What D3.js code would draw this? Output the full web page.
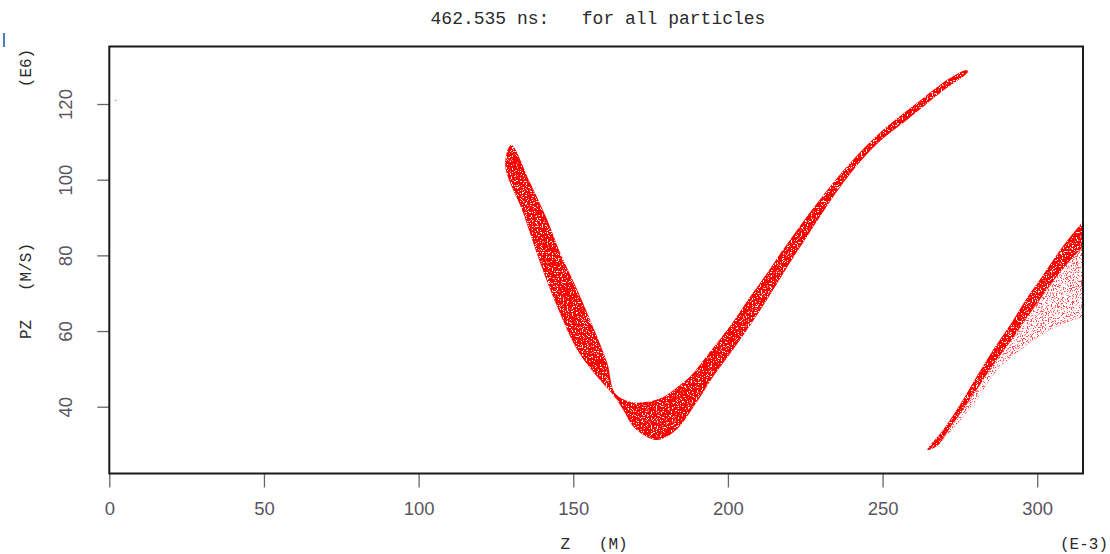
<!DOCTYPE html>
<html>
<head>
<meta charset="utf-8">
<script src="https://cdn.jsdelivr.net/npm/d3@7"></script>
<style>
  body { margin: 0; background: #fff; }
</style>
</head>
<body>
<div id="chart"></div>
<script>
// axis ticks
var xTicks = [0, 50, 100, 150, 200, 250, 300];
var yTicks = [40, 60, 80, 100, 120];

// main bunch outline, [z (E-3 m), pz (E6 m/s)]
var mainUpper = [
    [128.0, 103.9], [129.9, 109.2], [136.1, 99.1], [141.6, 89.4], [145.8, 80.6], [151.3, 70.9],
    [156.4, 61.1], [161.0, 51.6], [163.5, 43.6], [168.4, 41.3], [173.9, 41.3], [179.1, 42.6],
    [184.6, 45.8], [187.7, 47.9], [194.2, 54.5], [200.7, 61.3], [207.1, 69.0], [212.9, 75.6],
    [218.4, 82.2], [228.8, 93.8], [239.5, 104.4], [250.1, 113.1], [261.1, 120.3], [271.8, 126.9],
    [277.3, 129.0]
];
var mainLower = [
    [128.0, 103.9], [133.8, 91.2], [139.3, 78.0], [144.8, 66.4], [151.3, 55.0], [157.7, 47.9],
    [162.9, 43.1], [166.1, 39.2], [169.4, 34.7], [173.9, 32.0], [177.1, 31.2], [182.9, 33.6],
    [190.4, 41.8], [195.2, 47.9], [201.6, 55.0], [207.7, 62.1], [213.6, 69.5], [219.4, 77.2],
    [224.9, 84.1], [232.0, 93.0], [239.5, 101.5], [249.2, 110.2], [257.9, 115.8], [268.6, 122.9],
    [277.6, 128.5]
];

// second bunch: dense core and diffuse tail
var coreUpper = [
    [264.5, 28.6], [269.6, 33.9], [275.0, 40.5], [280.5, 48.1], [285.7, 55.0], [291.2, 61.6],
    [296.7, 68.8], [301.9, 74.8], [307.4, 81.4], [313.8, 88.0], [317.0, 91.0]
];
var coreLower = [
    [264.5, 28.6], [267.6, 29.6], [271.8, 34.4], [277.3, 40.8], [281.5, 45.8], [285.7, 51.0],
    [291.2, 57.1], [296.7, 63.5], [301.9, 69.5], [307.4, 75.6], [313.8, 81.4], [317.0, 84.0]
];
var tailLower = [
    [267.6, 29.6], [271.8, 33.3], [277.3, 38.6], [281.5, 43.1], [285.7, 48.4], [291.2, 52.9],
    [296.7, 56.3], [301.9, 59.2], [307.4, 61.6], [314.8, 63.5], [317.0, 63.0]
];

// stray particles
var strayPoints = [[1.9, 121.1]];

function drawPhaseSpace() {
    var width = 1110;
    var height = 554;
    var plot = { left: 109.3, right: 1083, top: 46.5, bottom: 473.5 };

    var x = d3.scaleLinear().domain([0, 314.8]).range([plot.left, plot.right]);
    var y = d3.scaleLinear().domain([22.35, 135.2]).range([plot.bottom, plot.top]);

    var svg = d3.select('#chart')
        .append('svg')
        .attr('width', width)
        .attr('height', height);

    var defs = svg.append('defs');

    defs.append('clipPath')
        .attr('id', 'plot_clip')
        .append('rect')
        .attr('x', plot.left)
        .attr('y', plot.top)
        .attr('width', plot.right - plot.left)
        .attr('height', plot.bottom - plot.top);

    // speckle texture: white noise dots laid over the red fill
    function speckle(id, seed, alphaRow) {
        var f = defs.append('filter')
            .attr('id', id)
            .attr('filterUnits', 'userSpaceOnUse')
            .attr('color-interpolation-filters', 'sRGB')
            .attr('x', 0).attr('y', 0)
            .attr('width', width).attr('height', height);
        f.append('feTurbulence')
            .attr('type', 'fractalNoise')
            .attr('baseFrequency', 0.8)
            .attr('numOctaves', 2)
            .attr('seed', seed)
            .attr('result', 'noise');
        f.append('feColorMatrix')
            .attr('in', 'noise')
            .attr('type', 'matrix')
            .attr('values', '0 0 0 0 0  0 0 0 0 0  0 0 0 0 0  ' + alphaRow)
            .attr('result', 'mask');
        f.append('feFlood')
            .attr('flood-color', '#ffffff')
            .attr('result', 'white');
        f.append('feComposite')
            .attr('in', 'white')
            .attr('in2', 'mask')
            .attr('operator', 'in')
            .attr('result', 'dots');
        f.append('feComposite')
            .attr('in', 'dots')
            .attr('in2', 'SourceAlpha')
            .attr('operator', 'in')
            .attr('result', 'dots_in');
        var merge = f.append('feMerge');
        merge.append('feMergeNode').attr('in', 'SourceGraphic');
        merge.append('feMergeNode').attr('in', 'dots_in');
    }
    speckle('speckle_dense', 4, '12 0 0 0 -7.0');
    speckle('speckle_sparse', 9, '-10 0 0 0 6.4');

    var line = d3.line()
        .x(function(d) { return x(d[0]); })
        .y(function(d) { return y(d[1]); })
        .curve(d3.curveCatmullRomClosed.alpha(0.5));

    function outline(upper, lower) {
        return upper.concat(lower.slice(1).reverse());
    }

    var bunches = svg.append('g').attr('clip-path', 'url(#plot_clip)');

    bunches.append('path')
        .attr('d', line(outline(tailLower, coreLower.slice(1))))
        .attr('fill', '#ff4a4a')
        .attr('filter', 'url(#speckle_sparse)');

    bunches.append('path')
        .attr('d', line(outline(mainUpper, mainLower)))
        .attr('fill', '#ff0000')
        .attr('filter', 'url(#speckle_dense)');

    bunches.append('path')
        .attr('d', line(outline(coreUpper, coreLower)))
        .attr('fill', '#ff0000')
        .attr('filter', 'url(#speckle_dense)');

    bunches.selectAll('rect.stray')
        .data(strayPoints)
        .enter()
        .append('rect')
        .attr('class', 'stray')
        .attr('x', function(d) { return x(d[0]); })
        .attr('y', function(d) { return y(d[1]); })
        .attr('width', 1.2)
        .attr('height', 1.2)
        .attr('fill', '#ff4040');

    // axes
    var xAxis = svg.append('g')
        .attr('transform', `translate(0, ${plot.bottom})`)
        .call(d3.axisBottom(x).tickValues(xTicks).tickSize(14).tickFormat(d3.format('d')));
    xAxis.select('.domain').remove();
    xAxis.selectAll('line').attr('stroke', '#666').attr('stroke-width', 1.3);
    xAxis.selectAll('text')
        .attr('y', 41)
        .attr('dy', 0)
        .attr('fill', '#5a5560')
        .style('font-family', '"Liberation Sans", Arial, sans-serif')
        .style('font-size', '18.5px');

    var yAxis = svg.append('g')
        .attr('transform', `translate(${plot.left}, 0)`)
        .call(d3.axisLeft(y).tickValues(yTicks).tickSize(12).tickFormat(d3.format('d')));
    yAxis.select('.domain').remove();
    yAxis.selectAll('line').attr('stroke', '#666').attr('stroke-width', 1.3);
    yAxis.selectAll('text')
        .attr('x', 0)
        .attr('dy', '0.36em')
        .attr('text-anchor', 'middle')
        .attr('transform', `translate(${65 - plot.left}, 0) rotate(-90)`)
        .attr('fill', '#5a5560')
        .style('font-family', '"Liberation Sans", Arial, sans-serif')
        .style('font-size', '18.5px');

    // frame
    svg.append('rect')
        .attr('x', plot.left)
        .attr('y', plot.top)
        .attr('width', plot.right - plot.left)
        .attr('height', plot.bottom - plot.top)
        .attr('fill', 'none')
        .attr('stroke', '#1a1a1a')
        .attr('stroke-width', 2);

    // labels
    var mono = '"Liberation Mono", "DejaVu Sans Mono", monospace';

    svg.append('text')
        .attr('x', 598)
        .attr('y', 24)
        .attr('text-anchor', 'middle')
        .attr('fill', '#2a2a2a')
        .style('font-family', mono)
        .style('font-size', '18px')
        .style('white-space', 'pre')
        .text('462.535 ns:   for all particles');

    svg.append('text')
        .attr('x', 594)
        .attr('y', 549)
        .attr('text-anchor', 'middle')
        .attr('fill', '#2a2a2a')
        .style('font-family', mono)
        .style('font-size', '16px')
        .style('white-space', 'pre')
        .text('Z   (M)');

    svg.append('text')
        .attr('x', 1084)
        .attr('y', 549)
        .attr('text-anchor', 'middle')
        .attr('fill', '#2a2a2a')
        .style('font-family', mono)
        .style('font-size', '16px')
        .text('(E-3)');

    svg.append('text')
        .attr('transform', 'translate(31, 291) rotate(-90)')
        .attr('text-anchor', 'middle')
        .attr('fill', '#2a2a2a')
        .style('font-family', mono)
        .style('font-size', '16px')
        .style('white-space', 'pre')
        .text('PZ   (M/S)');

    svg.append('text')
        .attr('transform', 'translate(31, 68) rotate(-90)')
        .attr('text-anchor', 'middle')
        .attr('fill', '#2a2a2a')
        .style('font-family', mono)
        .style('font-size', '16px')
        .text('(E6)');

    // small window marker at the top left
    svg.append('rect')
        .attr('x', 3)
        .attr('y', 33)
        .attr('width', 2)
        .attr('height', 14)
        .attr('fill', '#4a7ebb');
}

drawPhaseSpace();
</script>
</body>
</html>
